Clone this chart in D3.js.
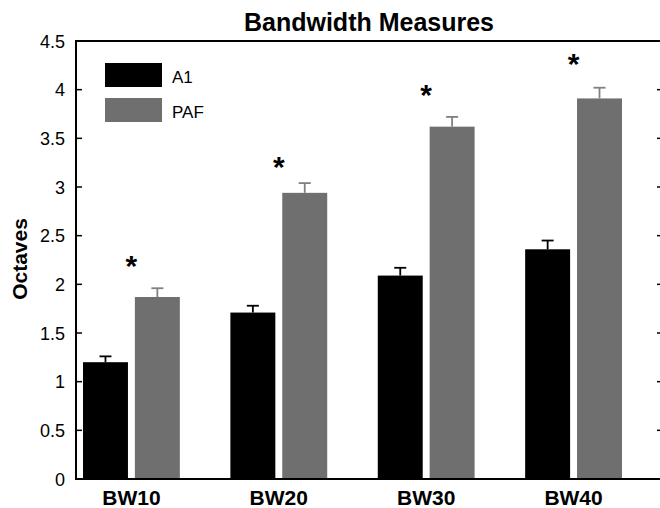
<!DOCTYPE html>
<html>
<head>
<meta charset="utf-8">
<script src="https://cdn.jsdelivr.net/npm/d3@7"></script>
<style>
  body { margin: 0; background: #fff; }
  text { font-family: "Liberation Sans", Arial, sans-serif; }
</style>
</head>
<body>
<svg id="chart" width="660" height="508"></svg>
<script>
const categories = ["BW10", "BW20", "BW30", "BW40"];
const a1Values = [1.20, 1.71, 2.09, 2.36];
const a1Errors = [0.06, 0.07, 0.08, 0.09];
const pafValues = [1.87, 2.94, 3.62, 3.91];
const pafErrors = [0.09, 0.10, 0.10, 0.11];
const starLevels = [2.26, 3.28, 4.02, 4.34];
const yTicks = [0, 0.5, 1, 1.5, 2, 2.5, 3, 3.5, 4, 4.5];

const svg = d3.select("#chart");
const plotLeft = 76, plotRight = 662, plotTop = 41, plotBottom = 479;

const x = d3.scaleLinear().domain([0.624, 4.6]).range([plotLeft, plotRight]);
const y = d3.scaleLinear().domain([0, 4.5]).range([plotBottom, plotTop]);
const offset = 0.176, barW = 0.305;

const series = [
  {name: "A1", values: a1Values, errors: a1Errors, fill: "#000", err: "#000", dx: -offset},
  {name: "PAF", values: pafValues, errors: pafErrors, fill: "#6f6f6f", err: "#808080", dx: offset}
];

// bars
series.forEach(s => {
  const g = svg.append("g");
  g.selectAll("rect")
    .data(s.values)
    .enter().append("rect")
    .attr("x", (d, i) => x(i + 1 + s.dx - barW / 2))
    .attr("width", x(barW) - x(0))
    .attr("y", d => y(d))
    .attr("height", d => plotBottom - y(d))
    .attr("fill", s.fill);

  // upper error bars
  g.selectAll("line.stem")
    .data(s.values)
    .enter().append("line")
    .attr("x1", (d, i) => x(i + 1 + s.dx))
    .attr("x2", (d, i) => x(i + 1 + s.dx))
    .attr("y1", d => y(d))
    .attr("y2", (d, i) => y(d + s.errors[i]))
    .attr("stroke", s.err).attr("stroke-width", 1.8);
  g.selectAll("line.cap")
    .data(s.values)
    .enter().append("line")
    .attr("x1", (d, i) => x(i + 1 + s.dx) - 6)
    .attr("x2", (d, i) => x(i + 1 + s.dx) + 6)
    .attr("y1", (d, i) => y(d + s.errors[i]))
    .attr("y2", (d, i) => y(d + s.errors[i]))
    .attr("stroke", s.err).attr("stroke-width", 1.8);
});

// significance stars
svg.selectAll("text.star")
  .data(starLevels)
  .enter().append("text")
  .attr("x", (d, i) => x(i + 1))
  .attr("y", d => y(d) + 17)
  .attr("text-anchor", "middle")
  .attr("font-size", 30)
  .attr("font-weight", "bold")
  .text("*");

// frame
svg.append("path")
  .attr("d", `M${plotRight},${plotTop}H${plotLeft}V${plotBottom}H${plotRight}`)
  .attr("fill", "none").attr("stroke", "#000").attr("stroke-width", 2);

// left axis
const yAxis = svg.append("g");
yAxis.selectAll("line")
  .data(yTicks)
  .enter().append("line")
  .attr("x1", plotLeft).attr("x2", plotLeft + 6)
  .attr("y1", d => y(d)).attr("y2", d => y(d))
  .attr("stroke", "#000").attr("stroke-width", 1.5);
yAxis.selectAll("text")
  .data(yTicks)
  .enter().append("text")
  .attr("x", plotLeft - 11)
  .attr("y", d => y(d) + 6.5)
  .attr("text-anchor", "end")
  .attr("font-size", 18)
  .text(d => d);

// right-side ticks
svg.append("g").selectAll("line")
  .data(yTicks.slice(1, -1))
  .enter().append("line")
  .attr("x1", plotRight - 5).attr("x2", plotRight)
  .attr("y1", d => y(d)).attr("y2", d => y(d))
  .attr("stroke", "#000").attr("stroke-width", 1.5);

// category labels
svg.append("g").selectAll("text")
  .data(categories)
  .enter().append("text")
  .attr("x", (d, i) => x(i + 1))
  .attr("y", 505)
  .attr("text-anchor", "middle")
  .attr("font-size", 21)
  .attr("font-weight", "bold")
  .text(d => d);

// y label
svg.append("text")
  .attr("transform", "translate(27,259) rotate(-90)")
  .attr("text-anchor", "middle")
  .attr("font-size", 21)
  .attr("font-weight", "bold")
  .text("Octaves");

// title
svg.append("text")
  .attr("x", (plotLeft + plotRight) / 2)
  .attr("y", 31)
  .attr("text-anchor", "middle")
  .attr("font-size", 25)
  .attr("font-weight", "bold")
  .text("Bandwidth Measures");

// legend
const legend = svg.append("g");
series.forEach((s, i) => {
  legend.append("rect")
    .attr("x", 105).attr("y", 63 + i * 35)
    .attr("width", 57).attr("height", 24)
    .attr("fill", s.fill);
  legend.append("text")
    .attr("x", 172).attr("y", 83 + i * 35)
    .attr("font-size", 17)
    .text(s.name);
});
</script>
</body>
</html>
